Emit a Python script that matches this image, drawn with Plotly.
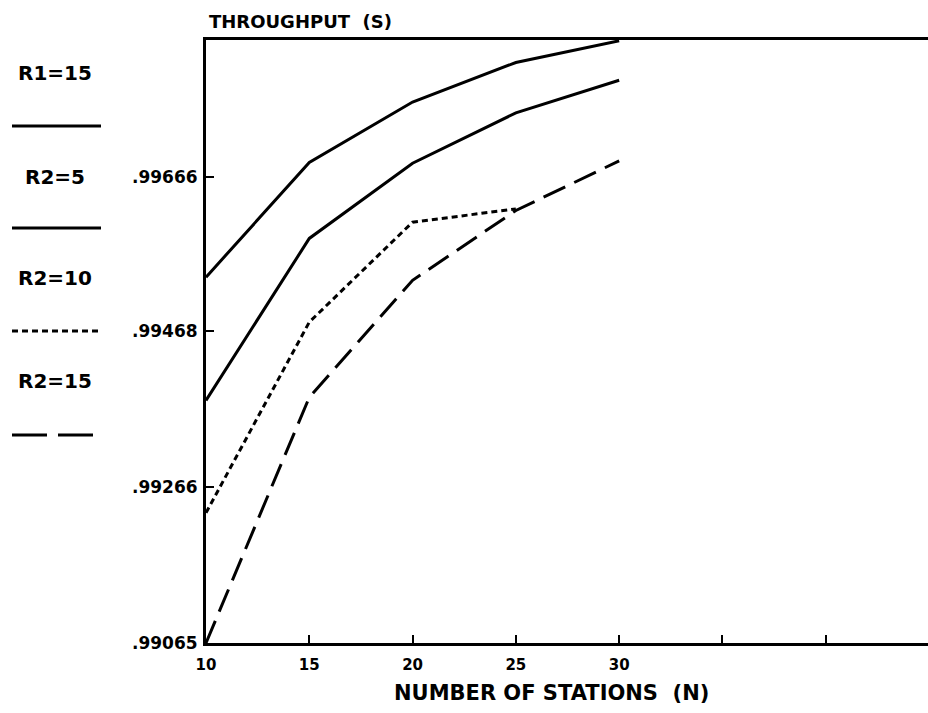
import plotly.graph_objects as go

# ---- data ----
stations = [10, 15, 20, 25, 30]
r1_15 = [0.99537, 0.99685, 0.99763, 0.99814, 0.99842]
r2_5 = [0.99378, 0.99587, 0.99684, 0.99749, 0.99791]
r2_10_x = [10, 15, 20, 25]
r2_10 = [0.99233, 0.99479, 0.99608, 0.99625]
r2_15 = [0.99065, 0.99382, 0.99533, 0.99623, 0.99687]

x_tickvals = [10, 15, 20, 25, 30, 35, 40]
x_ticktext = ["10", "15", "20", "25", "30", "", ""]
y_tickvals = [0.99065, 0.99266, 0.99468, 0.99666]
y_ticktext = [".99065", ".99266", ".99468", ".99666"]

legend_labels = ["R1=15", "R2=5", "R2=10", "R2=15"]
legend_dashes = ["solid", "solid", "6px,4px", "35px,11px"]

# ---- layout geometry ----
W, H = 928, 713
L, R, T, B = 206, 0, 40, 70
PW, PH = W - L - R, H - T - B
FONT = "DejaVu Sans"


def px(xp):
    return (xp - L) / PW


def py(yp):
    return (H - B - yp) / PH


fig = go.Figure()
series = [
    (stations, r1_15, "solid", "R1=15"),
    (stations, r2_5, "solid", "R2=5"),
    (r2_10_x, r2_10, "6px,4px", "R2=10"),
    (stations, r2_15, "24px,10px", "R2=15"),
]
for xs, ys, dash, name in series:
    fig.add_trace(go.Scatter(x=xs, y=ys, mode="lines", name=name,
                             line=dict(color="black", width=3, dash=dash),
                             showlegend=False))

annotations = [
    dict(text="THROUGHPUT  (S)", xref="paper", yref="paper", x=px(207), y=1,
         xanchor="left", yanchor="bottom", yshift=6, showarrow=False,
         font=dict(family=FONT, size=18, color="black", weight="bold")),
    dict(text="NUMBER OF STATIONS  (N)", xref="paper", yref="paper", x=px(551), y=0,
         xanchor="center", yanchor="middle", yshift=-50, showarrow=False,
         font=dict(family=FONT, size=21, color="black", weight="bold")),
]
shapes = []
text_y = [73, 177, 278, 381]
line_y = [126, 228, 331, 435]
for lab, dash, ty, ly in zip(legend_labels, legend_dashes, text_y, line_y):
    annotations.append(dict(text=lab, xref="paper", yref="paper", x=px(55), y=py(ty),
                            xanchor="center", yanchor="middle", showarrow=False,
                            font=dict(family=FONT, size=20, color="black", weight="bold")))
    shapes.append(dict(type="line", xref="paper", yref="paper",
                       x0=px(12), x1=px(101), y0=py(ly), y1=py(ly),
                       line=dict(color="black", width=3, dash=dash)))

fig.update_layout(
    width=W, height=H,
    margin=dict(l=L, r=R, t=T, b=B),
    paper_bgcolor="white", plot_bgcolor="white",
    annotations=annotations, shapes=shapes,
    xaxis=dict(range=[10, 44.95], tickvals=x_tickvals, ticktext=x_ticktext,
               showgrid=False, zeroline=False, showline=True, mirror=True,
               linecolor="black", linewidth=3, ticks="inside", ticklen=8,
               tickwidth=2, tickcolor="black", ticklabelstandoff=6,
               tickfont=dict(family=FONT, size=15, color="black", weight="bold")),
    yaxis=dict(range=[0.99065, 0.99843], tickvals=y_tickvals, ticktext=y_ticktext,
               showgrid=False, zeroline=False, showline=True,
               linecolor="black", linewidth=3, ticks="inside", ticklen=8,
               tickwidth=2, tickcolor="black", ticklabelstandoff=2,
               tickfont=dict(family=FONT, size=17, color="black", weight="bold")),
)

fig.write_html(
    "out.html",
    config={"displayModeBar": False},
    post_script="document.body.style.margin='0';document.body.style.overflow='hidden';",
)
